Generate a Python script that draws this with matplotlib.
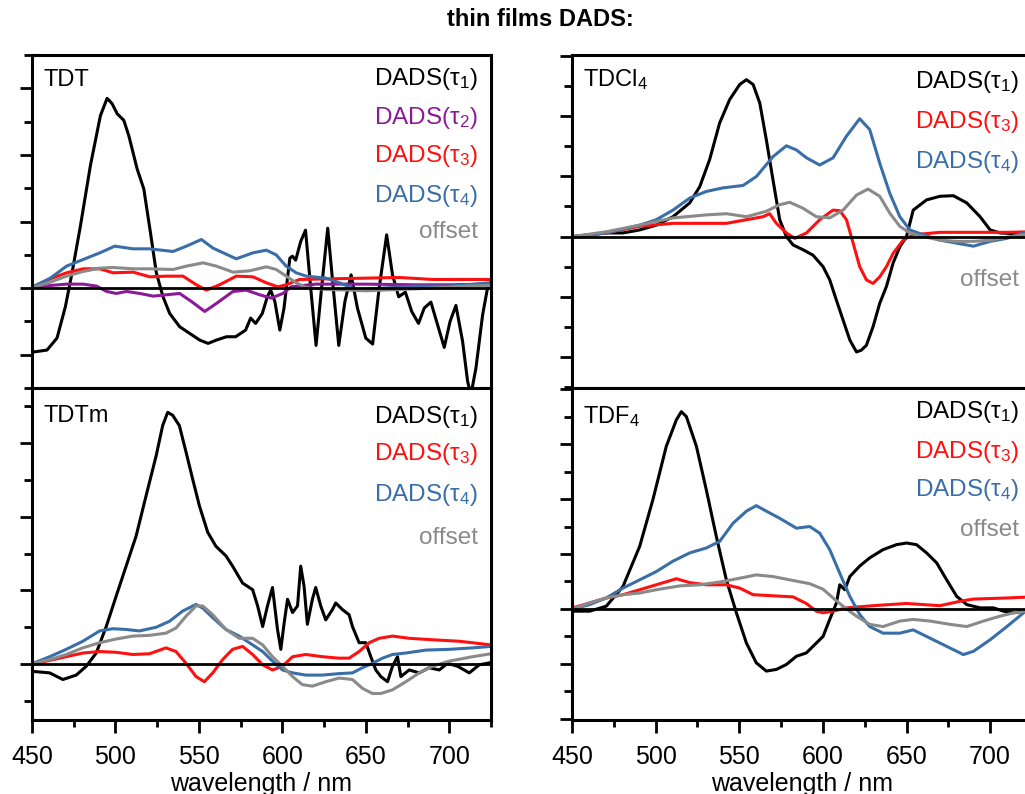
import numpy as np
import matplotlib
matplotlib.use("Agg")
from matplotlib import pyplot as plt
from matplotlib.ticker import MultipleLocator

plt.rcParams['font.family'] = ['Liberation Sans', 'DejaVu Sans']
plt.rcParams['mathtext.fontset'] = 'custom'
plt.rcParams['mathtext.rm'] = 'Liberation Sans'
plt.rcParams['mathtext.it'] = 'Liberation Sans:italic'

# colours of the four DADS components and the offset
black, purple, red, blue, grey = '#000000', '#8c1a96', '#ff1010', '#3a6ea8', '#8a8a8a'

# ---- TDT (top left) ----
tdt_t1_wl = [450.6, 459, 465, 470, 474, 479, 485, 491, 495, 498, 501, 505, 508, 513, 517, 521, 524.5,
             528.5, 532.5, 538.5, 544.5, 550.5, 555.5, 560.5, 566.5, 572, 578, 581, 584, 588, 591, 593,
             595.5, 598.5, 601, 604.5, 606, 608, 611, 613.9, 617, 620.2, 623.5, 627.2, 630.5, 633.8, 637.5,
             641.2, 645, 650, 654.1, 658, 662.5, 666, 669.7, 673.7, 677.5, 681.6, 685, 689, 693, 697,
             700.5, 704, 708, 711, 713, 716, 720, 722.7, 725]
tdt_t1 = [-0.96, -0.93, -0.75, -0.28, 0.23, 0.93, 1.84, 2.59, 2.85, 2.77, 2.62, 2.52, 2.29, 1.79, 1.49, 0.83, 0.23,
          -0.13, -0.38, -0.58, -0.68, -0.78, -0.83, -0.78, -0.73, -0.73, -0.63, -0.45, -0.53, -0.38, -0.13, -0.03,
          -0.2, -0.63, -0.3, 0.45, 0.48, 0.42, 0.7, 0.87, 0.0, -0.86, 0.0, 0.9, 0.0, -0.86, -0.2,
          0.2, -0.3, -0.75, -0.84, 0.0, 0.8, 0.2, -0.13, -0.06, -0.35, -0.53, -0.3, -0.21, -0.55, -0.89,
          -0.5, -0.26, -0.8, -1.4, -1.6, -1.2, -0.4, -0.03, 0.1]
tdt_t2_wl = [450.6, 461, 470.7, 480.7, 488.7, 494.7, 500.6, 506.6, 514.6, 522.6, 530.5, 538.5, 545.5, 553.5,
             560.5, 570.4, 578.4, 586.4, 593.3, 600.3, 605.3, 620, 650, 680, 700, 725]
tdt_t2 = [0.01, 0.04, 0.06, 0.06, 0.03, -0.05, -0.08, -0.05, -0.08, -0.12, -0.1, -0.08, -0.2, -0.35,
          -0.23, -0.05, -0.03, -0.1, -0.15, -0.08, 0.02, 0.06, 0.06, 0.05, 0.05, 0.06]
tdt_t3_wl = [450.6, 461, 470.7, 480.7, 490.7, 498.6, 510.6, 520.6, 530.5, 540.5, 548.5, 554.5, 562.4, 572.4,
             582.4, 590.4, 597.3, 602.3, 610.3, 630, 650, 670, 690, 710, 725]
tdt_t3 = [0.02, 0.14, 0.23, 0.29, 0.29, 0.23, 0.24, 0.17, 0.18, 0.18, 0.05, -0.03, 0.05, 0.18,
          0.17, 0.08, 0.02, 0.05, 0.13, 0.14, 0.15, 0.16, 0.13, 0.13, 0.13]
tdt_t4_wl = [450.6, 461, 470.7, 480.7, 490.7, 499.6, 510.6, 520.6, 534.5, 542.5, 551.5, 558.5, 572.4, 582.4,
             590.4, 596.3, 602.3, 608.3, 614.3, 626.2, 634.2, 642.2, 646, 660, 680, 700, 710, 725]
tdt_t4 = [0.02, 0.15, 0.33, 0.43, 0.53, 0.63, 0.59, 0.59, 0.55, 0.63, 0.73, 0.6, 0.44, 0.53,
          0.57, 0.5, 0.33, 0.23, 0.18, 0.15, 0.08, 0.0, -0.03, 0.0, 0.03, 0.03, 0.05, 0.08]
tdt_off_wl = [450.6, 461, 470.7, 480.7, 490.7, 498.6, 510.6, 520.6, 534.5, 542.5, 552.5, 560.5, 570.4, 580.4,
              590.4, 596.3, 602.3, 608.3, 614.3, 626.2, 640, 650, 670, 690, 710, 725]
tdt_off = [0.01, 0.09, 0.18, 0.25, 0.3, 0.31, 0.29, 0.29, 0.28, 0.33, 0.38, 0.33, 0.24, 0.26,
           0.32, 0.28, 0.18, 0.08, 0.01, -0.02, -0.03, -0.04, -0.02, 0.0, 0.03, 0.04]

# ---- TDTm (bottom left) ----
tdtm_t1_wl = [450.6, 460.6, 468.5, 476.5, 482.5, 488.5, 494.5, 500.4, 506.4, 512.4, 518.4, 524.4, 528.3, 531.3,
              534.3, 538.3, 542.3, 546.3, 550.3, 555.3, 560.2, 566.2, 570.2, 576.2, 582.2, 585.2, 588.2, 591.1,
              594.1, 597.1, 599.1, 601.1, 603.1, 606.1, 609.1, 611, 613, 615, 618, 620, 623, 626, 630, 632,
              636, 640, 642, 646, 650, 653, 656, 659, 663, 666, 669, 671, 676, 682, 688, 694, 699, 705, 712,
              718, 725]
tdtm_t1 = [-0.1, -0.12, -0.21, -0.15, -0.03, 0.15, 0.51, 0.92, 1.33, 1.74, 2.29, 2.83, 3.24, 3.42,
           3.38, 3.24, 2.88, 2.51, 2.15, 1.79, 1.6, 1.47, 1.33, 1.1, 1.01, 0.79, 0.51, 0.79,
           1.04, 0.47, 0.2, 0.56, 0.88, 0.7, 0.79, 1.33, 1.06, 0.54, 0.88, 1.04, 0.79, 0.6, 0.74, 0.83,
           0.74, 0.67, 0.51, 0.29, 0.29, 0.1, -0.08, -0.17, -0.24, -0.03, 0.1, -0.17, -0.08, -0.12, -0.05, -0.08, 0.01, -0.03, -0.12,
           -0.01, 0.02]
tdtm_t3_wl = [450.6, 460.6, 470.5, 480.5, 490.5, 500.4, 510.4, 520.4, 530.3, 536.3, 542.3, 548.3, 553.3, 558.3,
              564.2, 570.2, 576.2, 582.2, 588.2, 594.1, 600.1, 606.1, 614.1, 624, 634, 640, 646, 652, 658,
              666, 676, 690, 706, 725]
tdtm_t3 = [0.0, 0.05, 0.1, 0.15, 0.17, 0.16, 0.13, 0.14, 0.22, 0.17, 0.01, -0.17, -0.24, -0.12,
           0.06, 0.2, 0.24, 0.13, -0.01, -0.08, -0.03, 0.1, 0.13, 0.1, 0.08, 0.08, 0.17, 0.29, 0.35,
           0.38, 0.35, 0.33, 0.31, 0.26]
tdtm_t4_wl = [450.6, 460.6, 470.5, 480.5, 490.5, 498.4, 506.4, 514.4, 524.4, 532.3, 540.3, 548.3, 552.3, 558.3,
              566.2, 574.2, 582.2, 588.2, 594.1, 600.1, 606.1, 614.1, 624, 634, 642, 648, 654, 660, 666,
              674, 686, 700, 714, 725]
tdtm_t4 = [0.01, 0.1, 0.2, 0.31, 0.45, 0.48, 0.47, 0.45, 0.5, 0.58, 0.72, 0.81, 0.76, 0.63,
           0.47, 0.38, 0.26, 0.17, 0.04, -0.08, -0.12, -0.15, -0.15, -0.13, -0.12, -0.05, 0.01, 0.08, 0.13,
           0.15, 0.19, 0.2, 0.22, 0.24]
tdtm_off_wl = [450.6, 460.6, 470.5, 480.5, 490.5, 500.4, 510.4, 520.4, 530.3, 536.3, 542.3, 548.3, 552.3, 558.3,
               566.2, 574.2, 582.2, 588.2, 594.1, 600.1, 606.1, 612, 618, 626, 634, 642, 648, 654, 659, 666,
               674, 682, 690, 700, 714, 725]
tdtm_off = [0.01, 0.06, 0.13, 0.22, 0.29, 0.34, 0.38, 0.39, 0.42, 0.49, 0.65, 0.79, 0.79, 0.67,
            0.47, 0.35, 0.35, 0.26, 0.1, -0.03, -0.17, -0.28, -0.3, -0.24, -0.19, -0.21, -0.33, -0.4, -0.4, -0.35,
            -0.24, -0.12, -0.03, 0.04, 0.1, 0.14]

# ---- TDCl4 (top right) ----
tdcl_t1_wl = [450.6, 460.6, 470.5, 480.5, 490.5, 500.4, 510.4, 520.4, 526.4, 532.3, 538.3, 544.3, 550.3, 554.3,
              558.3, 562.3, 566.2, 570.2, 574.2, 578.2, 582.2, 588.2, 594.1, 600.1, 604.1, 608.1, 612.1, 616.1,
              620.1, 623, 626, 630, 634, 638, 642, 646, 650, 654, 662, 670, 678, 686, 694, 700, 706, 720, 725]
tdcl_t1 = [0.0, 0.03, 0.06, 0.06, 0.11, 0.19, 0.33, 0.56, 0.83, 1.28, 1.89, 2.28, 2.53, 2.61,
           2.53, 2.22, 1.61, 0.94, 0.28, 0.0, -0.14, -0.22, -0.31, -0.5, -0.72, -1.06, -1.39, -1.72,
           -1.92, -1.89, -1.81, -1.5, -1.11, -0.83, -0.44, -0.17, 0.0, 0.44, 0.61, 0.67, 0.68, 0.56, 0.33, 0.11, 0.06, 0.04, 0.03]
tdcl_t3_wl = [450.6, 470.5, 490.5, 510.4, 530.3, 542.3, 554.3, 564.2, 568.2, 572.2, 578.2, 583.2, 590.2, 598.1,
              606.1, 610.1, 614.1, 618.1, 622, 626, 630, 634, 638, 642, 648, 654, 670, 690, 710, 725]
tdcl_t3 = [0.0, 0.06, 0.17, 0.22, 0.22, 0.22, 0.28, 0.33, 0.38, 0.22, 0.06, -0.03, 0.06, 0.28,
           0.44, 0.43, 0.28, -0.11, -0.5, -0.72, -0.78, -0.67, -0.5, -0.28, -0.06, 0.03, 0.07, 0.07, 0.07, 0.08]
tdcl_t4_wl = [450.6, 470.5, 490.5, 500.4, 510.4, 520.4, 530.3, 540.3, 552.3, 560.3, 570.2, 578.2, 584.2, 590.2,
              598.1, 606.1, 614.1, 622, 628, 634, 640, 646, 652, 660, 670, 680, 690, 700, 710, 720, 725]
tdcl_t4 = [0.0, 0.06, 0.19, 0.28, 0.44, 0.64, 0.75, 0.81, 0.85, 1.0, 1.33, 1.51, 1.44, 1.31,
           1.19, 1.31, 1.67, 1.96, 1.78, 1.22, 0.72, 0.33, 0.11, 0.03, -0.06, -0.11, -0.16, -0.08, -0.03, 0.06, 0.08]
tdcl_off_wl = [450.6, 470.5, 490.5, 510.4, 530.3, 542.3, 554.3, 566.2, 574.2, 580.2, 588.2, 596.1, 604.1, 612.1,
               620.1, 627, 634, 640, 646, 652, 660, 670, 680, 690, 700, 710, 720, 725]
tdcl_off = [0.0, 0.08, 0.19, 0.31, 0.36, 0.38, 0.33, 0.42, 0.53, 0.57, 0.47, 0.33, 0.31, 0.44,
            0.69, 0.79, 0.67, 0.39, 0.17, 0.06, 0.0, -0.06, -0.08, -0.08, -0.06, -0.01, 0.03, 0.04]

# ---- TDF4 (bottom right) ----
tdf_t1_wl = [450.6, 460.6, 470.5, 480.5, 490.5, 498.4, 506.4, 512.4, 515.4, 518.4, 524.4, 530.3, 536.3, 542.3,
             548.3, 554.3, 560.2, 566.2, 572.2, 578.2, 584.2, 590.1, 596.1, 600.1, 604.1, 608.1, 610.1, 613.1,
             616.1, 622, 628, 636, 644, 650, 656, 662, 668, 674, 680, 686, 694, 702, 708, 714, 720, 725]
tdf_t1 = [-0.04, -0.04, 0.05, 0.41, 1.14, 1.99, 2.96, 3.44, 3.59, 3.5, 2.96, 2.17, 1.32, 0.53,
          -0.07, -0.62, -0.98, -1.13, -1.1, -1.01, -0.86, -0.8, -0.62, -0.5, -0.19, 0.11, 0.44, 0.35,
          0.59, 0.78, 0.93, 1.08, 1.17, 1.2, 1.17, 1.02, 0.84, 0.53, 0.23, 0.08, 0.02, 0.02, -0.04, -0.07, -0.04, -0.02]
tdf_t3_wl = [450.6, 460.6, 470.5, 480.5, 490.5, 500.4, 512.4, 520.4, 530.3, 542.3, 550.3, 558.3, 570.2, 582.2,
             590.1, 596.1, 600.1, 606.1, 614.1, 630, 650, 670, 682, 690, 710, 725]
tdf_t3 = [0.02, 0.11, 0.2, 0.26, 0.35, 0.44, 0.55, 0.48, 0.44, 0.44, 0.38, 0.26, 0.24, 0.22,
          0.1, -0.04, -0.07, -0.04, 0.02, 0.06, 0.1, 0.06, 0.14, 0.18, 0.2, 0.22]
tdf_t4_wl = [450.6, 460.6, 470.5, 480.5, 490.5, 500.4, 510.4, 520.4, 530.3, 538.3, 546.3, 554.3, 560.2, 566.2,
             574.2, 584.2, 592.1, 598.1, 604.1, 610.1, 616.1, 622, 628, 636, 646, 654, 662, 670, 678, 684,
             690, 700, 710, 720, 725]
tdf_t4 = [0.0, 0.08, 0.2, 0.38, 0.53, 0.68, 0.87, 1.02, 1.11, 1.23, 1.56, 1.78, 1.88, 1.78,
          1.65, 1.47, 1.5, 1.38, 1.08, 0.65, 0.23, -0.1, -0.32, -0.44, -0.44, -0.38, -0.5, -0.62, -0.74, -0.83,
          -0.77, -0.56, -0.32, -0.07, 0.05]
tdf_off_wl = [450.6, 460.6, 470.5, 480.5, 490.5, 500.4, 514.4, 526.4, 540.3, 550.3, 560.2, 570.2, 580.2, 592.1,
              600.1, 606.1, 612.1, 620, 628, 636, 646, 654, 664, 676, 686, 696, 706, 714, 720, 725]
tdf_off = [0.0, 0.11, 0.2, 0.26, 0.29, 0.35, 0.42, 0.44, 0.5, 0.56, 0.62, 0.59, 0.53, 0.46,
           0.36, 0.2, 0.05, -0.13, -0.28, -0.32, -0.22, -0.19, -0.22, -0.28, -0.32, -0.22, -0.13, -0.07, -0.04, -0.02]

panels = [
    # name, axes rect, ylim, curves, legend labels, legend y (axes fraction), bottom row
    ('TDT', [0.0312, 0.5113, 0.4478, 0.4194], (-1.5, 3.5),
     [(tdt_t1_wl, tdt_t1, black), (tdt_t2_wl, tdt_t2, purple), (tdt_t3_wl, tdt_t3, red),
      (tdt_t4_wl, tdt_t4, blue), (tdt_off_wl, tdt_off, grey)],
     [('DADS(τ$_1$)', black), ('DADS(τ$_2$)', purple), ('DADS(τ$_3$)', red), ('DADS(τ$_4$)', blue), ('offset', grey)],
     [0.927, 0.81, 0.696, 0.576, 0.47], False),
    ('TDTm', [0.0312, 0.0932, 0.4478, 0.4181], (-0.76, 3.75),
     [(tdtm_t1_wl, tdtm_t1, black), (tdtm_t3_wl, tdtm_t3, red),
      (tdtm_t4_wl, tdtm_t4, blue), (tdtm_off_wl, tdtm_off, grey)],
     [('DADS(τ$_1$)', black), ('DADS(τ$_3$)', red), ('DADS(τ$_4$)', blue), ('offset', grey)],
     [0.912, 0.80, 0.677, 0.548], True),
    ('TDCl$_4$', [0.558, 0.5113, 0.4488, 0.4194], (-2.52, 3.02),
     [(tdcl_t1_wl, tdcl_t1, black), (tdcl_t3_wl, tdcl_t3, red),
      (tdcl_t4_wl, tdcl_t4, blue), (tdcl_off_wl, tdcl_off, grey)],
     [('DADS(τ$_1$)', black), ('DADS(τ$_3$)', red), ('DADS(τ$_4$)', blue), ('offset', grey)],
     [0.918, 0.798, 0.678, 0.325], False),
    ('TDF$_4$', [0.558, 0.0932, 0.4488, 0.4181], (-2.02, 4.02),
     [(tdf_t1_wl, tdf_t1, black), (tdf_t3_wl, tdf_t3, red),
      (tdf_t4_wl, tdf_t4, blue), (tdf_off_wl, tdf_off, grey)],
     [('DADS(τ$_1$)', black), ('DADS(τ$_3$)', red), ('DADS(τ$_4$)', blue), ('offset', grey)],
     [0.927, 0.807, 0.693, 0.573], True),
]

fig = plt.figure(figsize=(10.25, 7.94), dpi=100)

for name, rect, ylim, curves, labels, label_y, bottom in panels:
    ax = fig.add_axes(rect)
    for wl, val, col in curves:
        ax.plot(wl, val, color=col, lw=2.2, solid_joinstyle='round')
    ax.axhline(0, color='black', lw=2.0)
    ax.set_xlim(450, 725)
    ax.set_ylim(*ylim)
    for s in ax.spines.values():
        s.set_linewidth(2.2)
    ax.yaxis.set_major_locator(MultipleLocator(1))
    ax.yaxis.set_minor_locator(MultipleLocator(0.5))
    ax.tick_params(axis='y', which='both', direction='out', width=2, labelleft=False)
    ax.tick_params(axis='y', which='major', length=9)
    ax.tick_params(axis='y', which='minor', length=6)
    if bottom:
        ax.xaxis.set_major_locator(MultipleLocator(50))
        ax.xaxis.set_minor_locator(MultipleLocator(25))
        ax.tick_params(axis='x', which='both', direction='out', width=2, labelsize=18, pad=9)
        ax.tick_params(axis='x', which='major', length=9)
        ax.tick_params(axis='x', which='minor', length=5)
        ax.set_xlabel('wavelength / nm', fontsize=18, labelpad=2)
    else:
        ax.tick_params(axis='x', which='both', bottom=False, labelbottom=False)
    ax.text(0.025, 0.925 if not bottom else 0.915, name, transform=ax.transAxes,
            fontsize=17, ha='left', va='center')
    for (txt, col), yy in zip(labels, label_y):
        ax.text(0.972, yy, txt, transform=ax.transAxes, fontsize=17.5,
                color=col, ha='right', va='center')

fig.text(0.527, 0.975, 'thin films DADS:', fontsize=17, fontweight='bold',
         ha='center', va='center')

fig.savefig('out.png', dpi=100)
